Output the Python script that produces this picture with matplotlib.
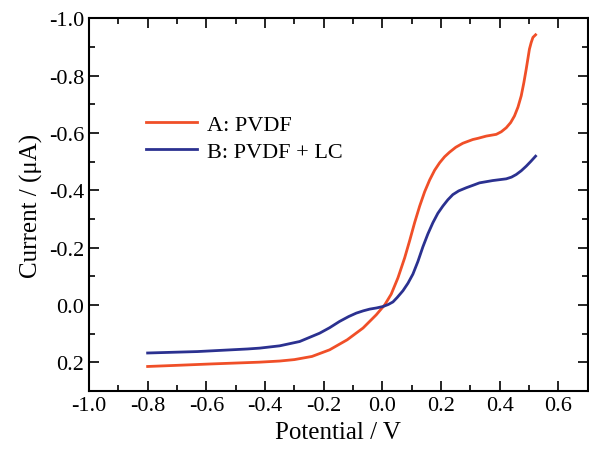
import numpy as np
import matplotlib
matplotlib.use('Agg')
import matplotlib.pyplot as plt
from matplotlib.ticker import MultipleLocator

plt.rcParams['font.family'] = ['Liberation Serif', 'DejaVu Serif']
plt.rcParams['axes.unicode_minus'] = False

# A: PVDF
x_a = [-0.8, -0.7, -0.58, -0.5, -0.42, -0.35, -0.30, -0.24, -0.18, -0.12, -0.066, -0.021,
       0.008, 0.030, 0.053, 0.076, 0.093, 0.110, 0.127, 0.144, 0.161, 0.178, 0.195, 0.212,
       0.229, 0.25, 0.274, 0.308, 0.325, 0.354, 0.388, 0.405, 0.422, 0.437, 0.450, 0.462,
       0.473, 0.482, 0.490, 0.496, 0.501, 0.507, 0.513, 0.522]
y_a = [0.214, 0.210, 0.205, 0.202, 0.199, 0.195, 0.190, 0.179, 0.156, 0.121, 0.080, 0.034,
       -0.001, -0.038, -0.095, -0.165, -0.225, -0.288, -0.345, -0.395, -0.436, -0.47, -0.496, -0.517,
       -0.533, -0.55, -0.564, -0.577, -0.581, -0.589, -0.595, -0.604, -0.618, -0.636, -0.659, -0.69,
       -0.729, -0.775, -0.822, -0.86, -0.892, -0.915, -0.933, -0.942]

# B: PVDF + LC
x_b = [-0.8, -0.63, -0.46, -0.418, -0.35, -0.282, -0.214, -0.18, -0.146, -0.115, -0.089,
       -0.065, -0.043, -0.02, 0.002, 0.02, 0.036, 0.050, 0.070, 0.087, 0.104, 0.121, 0.138,
       0.155, 0.172, 0.189, 0.206, 0.223, 0.240, 0.26, 0.286, 0.31, 0.331, 0.376, 0.422,
       0.44, 0.456, 0.473, 0.490, 0.506, 0.522]
y_b = [0.167, 0.162, 0.153, 0.150, 0.142, 0.127, 0.098, 0.079, 0.057, 0.040, 0.028,
       0.020, 0.014, 0.010, 0.005, -0.002, -0.011, -0.026, -0.050, -0.076, -0.108, -0.152, -0.203,
       -0.248, -0.287, -0.320, -0.345, -0.367, -0.385, -0.398, -0.409, -0.418, -0.426, -0.434, -0.440,
       -0.446, -0.455, -0.468, -0.484, -0.501, -0.519]

fig = plt.figure(figsize=(5.89, 4.56), dpi=100)
ax = fig.add_axes([0.151, 0.140, 0.847, 0.818])

ax.plot(x_a, y_a, color='#F04F28', lw=2, label='A: PVDF', solid_joinstyle='round')
ax.plot(x_b, y_b, color='#2B3190', lw=2, label='B: PVDF + LC', solid_joinstyle='round')

ax.set_xlim(-1.0, 0.7)
ax.set_ylim(0.3, -1.0)
ax.xaxis.set_major_locator(MultipleLocator(0.2))
ax.xaxis.set_minor_locator(MultipleLocator(0.1))
ax.yaxis.set_major_locator(MultipleLocator(0.2))
ax.yaxis.set_minor_locator(MultipleLocator(0.1))
fmt = plt.FuncFormatter(lambda v, p: '%.1f' % v if abs(v) > 1e-9 else '0.0')
ax.xaxis.set_major_formatter(fmt)
ax.yaxis.set_major_formatter(fmt)

ax.tick_params(which='both', direction='in', top=True, right=True, width=1.2, labelsize=16)
ax.tick_params(which='major', length=7)
ax.tick_params(which='minor', length=4)
for s in ax.spines.values():
    s.set_linewidth(1.5)

ax.set_xlabel('Potential / V', fontsize=18)
ax.set_ylabel('Current / (μA)', fontsize=18)

ax.legend(loc='upper left', bbox_to_anchor=(0.114, 0.743), frameon=False, fontsize=16,
          handlelength=2.3, handletextpad=0.45, labelspacing=0.3, borderpad=0, borderaxespad=0)

fig.savefig('out.png', dpi=100)
